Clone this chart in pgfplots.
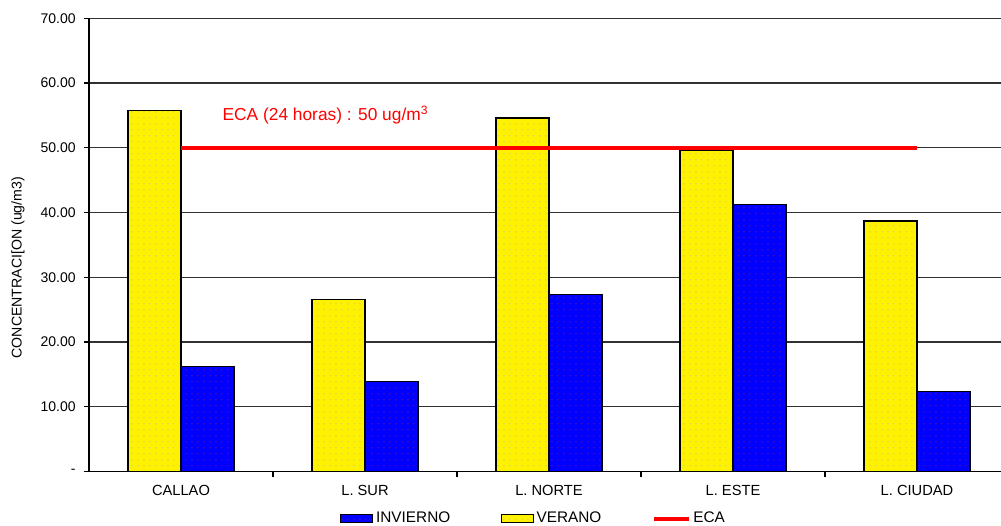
\documentclass[border=0pt]{standalone}
\usepackage{fontspec}
\setmainfont{Liberation Sans}
\usepackage{pgfplots}
\pgfplotsset{compat=1.18}
\usetikzlibrary{patterns.meta}
\definecolor{gridc}{RGB}{50,50,50}
\definecolor{dotY}{RGB}{150,150,230}
\definecolor{dotB}{RGB}{230,40,60}
\pgfplotsset{
  barlegend/.style={legend image code/.code={\draw[##1] (0pt,-3pt) rectangle (24pt,3pt);}},
  linelegend/.style={legend image code/.code={\draw[##1] (0pt,0pt) -- (26pt,0pt);}},
}
\begin{document}
\begin{tikzpicture}
\begin{axis}[
  name=ax,
  scale only axis, width=690pt, height=340pt,
  xmin=-0.5, xmax=4.5, ymin=0, ymax=70,
  axis x line=bottom, axis y line=left,
  axis line style={-, black, line width=0.9pt},
  tick align=outside,
  xtick={0,1,2,3,4},
  xticklabels={CALLAO, L. SUR, L. NORTE, L. ESTE, L. CIUDAD},
  major x tick style={draw=none},
  minor xtick={0.5,1.5,2.5,3.5},
  minor tick length=4pt,
  major tick length=4pt,
  every tick/.style={black, line width=0.9pt},
  ytick={0,10,20,30,40,50,60,70},
  yticklabels={-,10.00,20.00,30.00,40.00,50.00,60.00,70.00},
  ymajorgrids, major grid style={gridc, line width=0.9pt},
  yticklabel style={font=\fontsize{10.5}{12}\selectfont, xshift=-2.5pt},
  xticklabel style={font=\fontsize{11}{13}\selectfont, yshift=-3pt},
  ylabel={CONCENTRACI[ON (ug/m3)},
  ylabel style={font=\fontsize{10.6}{12}\selectfont, at={(axis description cs:-0.0772,0.45)}, anchor=center},
  legend columns=3,
  legend style={draw=none, fill=none, at={(axis description cs:0.273,0)}, anchor=west, yshift=-35.2pt,
    inner sep=0pt, font=\fontsize{11.5}{13}\selectfont,
    /tikz/every even column/.append style={column sep=36pt}},
  legend cell align=left,
]
\addplot[ybar, bar width=0.288, bar shift=0.144, fill=blue, draw=black, line width=0.8pt,
  postaction={pattern={Dots[distance=4.5pt,radius=0.45pt]}, pattern color=dotB}, barlegend]
  coordinates {(0,16.2) (1,13.9) (2,27.3) (3,41.3) (4,12.3)};
\addlegendentry{INVIERNO}
\addplot[ybar, bar width=0.288, bar shift=-0.144, fill=yellow, draw=black, line width=0.8pt,
  postaction={pattern={Dots[distance=4.5pt,radius=0.45pt]}, pattern color=dotY}, barlegend]
  coordinates {(0,55.7) (1,26.6) (2,54.6) (3,49.6) (4,38.7)};
\addlegendentry{VERANO}
\addplot[red, line width=3pt, mark=none, linelegend]
  coordinates {(0,50) (4,50)};
\addlegendentry{ECA}
\node[red, font=\fontsize{13}{15}\selectfont] at (axis cs:0.785,55.1) {ECA (24 horas) : 50 ug/m\textsuperscript{3}};
\end{axis}
\pgfresetboundingbox
\path[use as bounding box] ([shift={(-66.75pt,-40.7pt)}]ax.south west) rectangle ([shift={(684pt,353.7pt)}]ax.south west);
\end{tikzpicture}
\end{document}
